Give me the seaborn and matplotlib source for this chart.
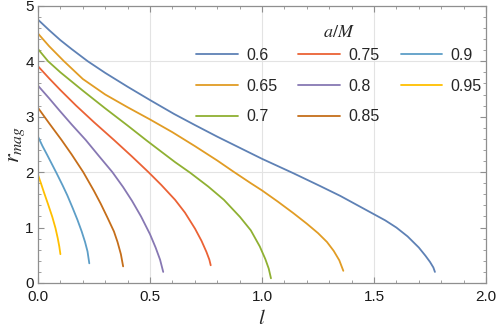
import numpy as np
import seaborn as sns
import pandas as pd
import matplotlib.pyplot as plt
from matplotlib.ticker import MultipleLocator

# values
spins = ["0.6", "0.65", "0.7", "0.75", "0.8", "0.85", "0.9", "0.95"]

l_06 = [0, 0.05, 0.1, 0.15, 0.222, 0.3, 0.4, 0.5, 0.607, 0.7, 0.8, 0.9, 1.0,
        1.14, 1.259, 1.35, 1.45, 1.5, 1.55, 1.6, 1.65, 1.7, 1.73, 1.75, 1.765, 1.772]
r_06 = [4.75, 4.56, 4.38, 4.22, 4.0, 3.79, 3.54, 3.30, 3.05, 2.85, 2.64, 2.44, 2.24,
        1.98, 1.75, 1.57, 1.35, 1.24, 1.13, 1.0, 0.84, 0.64, 0.49, 0.38, 0.28, 0.20]

l_065 = [0, 0.05, 0.116, 0.2, 0.3, 0.4, 0.5, 0.6, 0.7, 0.8, 0.872, 0.95, 1.0,
         1.07, 1.14, 1.2, 1.25, 1.29, 1.32, 1.345, 1.363]
r_065 = [4.50, 4.27, 4.0, 3.68, 3.40, 3.17, 2.95, 2.72, 2.47, 2.21, 2.01, 1.80, 1.67,
         1.47, 1.26, 1.07, 0.90, 0.74, 0.58, 0.41, 0.22]

l_07 = [0, 0.045, 0.1, 0.2, 0.3, 0.4, 0.485, 0.55, 0.612, 0.679, 0.76, 0.83,
        0.902, 0.95, 0.99, 1.015, 1.03, 1.04]
r_07 = [4.22, 4.0, 3.80, 3.47, 3.15, 2.84, 2.57, 2.37, 2.18, 1.99, 1.74, 1.50,
        1.19, 0.95, 0.66, 0.43, 0.26, 0.085]

l_075 = [0, 0.05, 0.1, 0.17, 0.25, 0.339, 0.42, 0.493, 0.55, 0.612, 0.656,
         0.701, 0.73, 0.752, 0.765, 0.771]
r_075 = [3.91, 3.69, 3.48, 3.20, 2.90, 2.58, 2.28, 2.0, 1.77, 1.50, 1.27,
         0.98, 0.76, 0.56, 0.42, 0.32]

l_08 = [0, 0.05, 0.094, 0.15, 0.213, 0.27, 0.332, 0.38, 0.42, 0.46, 0.5,
        0.525, 0.545, 0.559]
r_08 = [3.56, 3.33, 3.12, 2.86, 2.58, 2.30, 2.0, 1.73, 1.48, 1.20, 0.88,
        0.64, 0.42, 0.20]

l_085 = [0, 0.05, 0.105, 0.15, 0.202, 0.25, 0.28, 0.31, 0.339, 0.355, 0.37, 0.38]
r_085 = [3.16, 2.88, 2.58, 2.32, 2.0, 1.66, 1.43, 1.18, 0.93, 0.74, 0.52, 0.30]

l_09 = [0, 0.02, 0.041, 0.083, 0.11, 0.131, 0.155, 0.176, 0.195, 0.21, 0.221, 0.229]
r_09 = [2.64, 2.47, 2.31, 1.98, 1.76, 1.58, 1.35, 1.14, 0.93, 0.74, 0.57, 0.355]

l_095 = [0, 0.013, 0.027, 0.045, 0.064, 0.078, 0.088, 0.095, 0.1]
r_095 = [1.95, 1.80, 1.63, 1.42, 1.19, 0.99, 0.81, 0.66, 0.52]

curves = [(l_06, r_06), (l_065, r_065), (l_07, r_07), (l_075, r_075),
          (l_08, r_08), (l_085, r_085), (l_09, r_09), (l_095, r_095)]

colors = ["#5E81B5", "#E19C24", "#8FB032", "#EB6235",
          "#8778B3", "#C56E1A", "#5D9EC7", "#FFBF00"]

rows = []
for name, (ls, rs) in zip(spins, curves):
    for a, b in zip(ls, rs):
        rows.append({"l": a, "r": b, "aM": name})
frame = pd.DataFrame(rows)

sns.set_theme(style="ticks")
plt.rcParams["font.family"] = ["Liberation Sans", "DejaVu Sans"]
plt.rcParams["mathtext.fontset"] = "stix"

frame_col = "#8f8f8f"

fig = plt.figure(figsize=(4.98, 3.29), dpi=100)
ax = fig.add_axes([38 / 498, 1 - 283 / 329, 448 / 498, (283 - 5.8) / 329])

for v in [0.5, 1.0, 1.5]:
    ax.axvline(v, color="#e3e3e3", lw=0.8, zorder=0)
for v in [2, 4]:
    ax.axhline(v, color="#e3e3e3", lw=0.8, zorder=0)

sns.lineplot(data=frame, x="l", y="r", hue="aM", hue_order=spins,
             palette=dict(zip(spins, colors)), sort=False, estimator=None,
             units="aM", lw=1.3, ax=ax)

ax.set_xlim(0, 2.0)
ax.set_ylim(0, 5)
ax.xaxis.set_minor_locator(MultipleLocator(0.1))
ax.yaxis.set_major_locator(MultipleLocator(1))
ax.yaxis.set_minor_locator(MultipleLocator(0.2))
ax.set_xticks([0, 0.5, 1.0, 1.5, 2.0])
ax.set_xticklabels(["0.0", "0.5", "1.0", "1.5", "2.0"])

for s in ax.spines.values():
    s.set_color(frame_col)
    s.set_linewidth(0.9)
ax.tick_params(which="both", direction="in", top=True, right=True,
               color=frame_col, labelsize=11, labelcolor="#1a1a1a")
ax.tick_params(which="major", length=4.5, width=0.8)
ax.tick_params(axis="x", which="major", pad=5)
ax.tick_params(axis="y", which="major", pad=3)
ax.tick_params(which="minor", length=2.5, width=0.6)

ax.set_xlabel("$l$", fontsize=15, labelpad=4)
ax.set_ylabel("$r_{mag}$", fontsize=16, labelpad=-1)

sns.move_legend(ax, "upper left", bbox_to_anchor=(196 / 498, 1 - 24 / 329),
                bbox_transform=fig.transFigure, ncol=3, frameon=False,
                title="$a/M$", title_fontsize=13, fontsize=11.5,
                handlelength=2.6, handletextpad=0.55, columnspacing=1.3,
                labelspacing=0.98, borderpad=0, borderaxespad=0)
leg = ax.get_legend()
leg._legend_box.sep = 5  # tighter gap under the title

fig.savefig("out.png", dpi=100)
